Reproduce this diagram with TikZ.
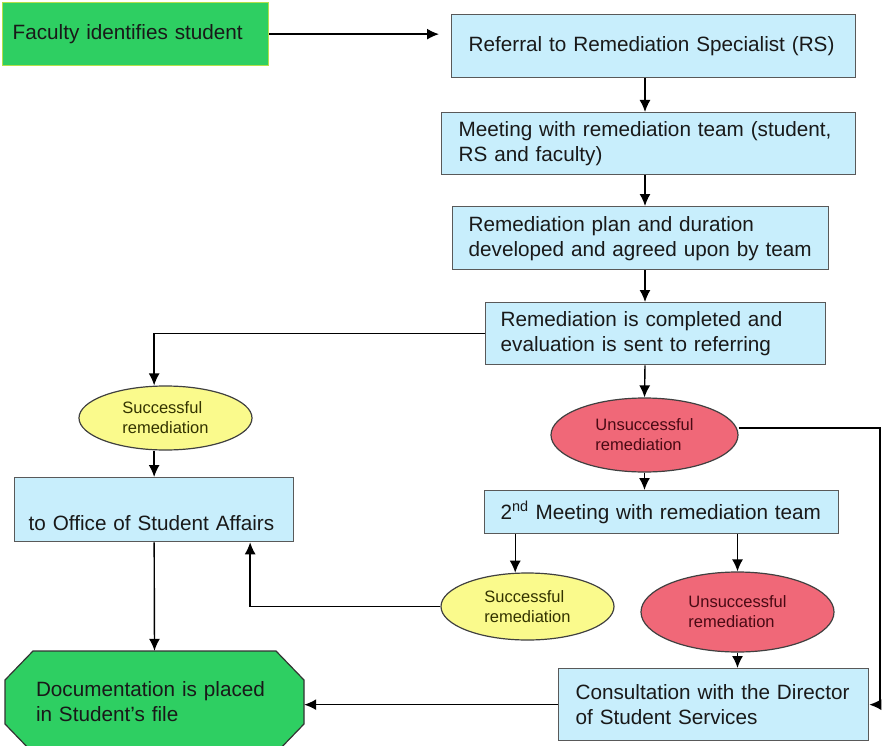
\documentclass[tikz,border=0pt]{standalone}
\usepackage{fontspec}
\setmainfont{Liberation Sans}
\usetikzlibrary{shapes.geometric,arrows.meta}
\definecolor{facgreen}{HTML}{2ECF62}
\definecolor{facline}{HTML}{B4E04A}
\definecolor{boxblue}{HTML}{C8EEFC}
\definecolor{okyellow}{HTML}{FAFA8C}
\definecolor{badred}{HTML}{F06878}
\definecolor{oktext}{HTML}{333300}
\definecolor{badtext}{HTML}{4A0A14}
\newcommand{\boxfont}{\fontsize{20.7}{25}\selectfont}
\newcommand{\ovalfont}{\fontsize{16.5}{20}\selectfont}
\tikzset{
  stepbox/.style={draw=black!65, line width=1.3pt, fill=boxblue, anchor=north west, align=left, font=\boxfont, text=black!90},
  okoval/.style={ellipse, draw=black!75, line width=1.2pt, fill=okyellow, align=left, font=\ovalfont, text=oktext, inner sep=0pt},
  badoval/.style={okoval, fill=badred, text=badtext},
  flow/.style={line width=1.4pt, -{Latex[length=12pt,width=11pt]}},
}
\begin{document}
\begin{tikzpicture}[x=1pt,y=-1pt]
\useasboundingbox (0,0) rectangle (888,746);
\fill[white] (0,0) rectangle (888,746);
\clip (0,0) rectangle (888,746);
\node[stepbox, fill=facgreen, draw=facline, inner xsep=10pt, text width=246pt, minimum height=63pt] (fac) at (2,2) {Faculty identifies student};
\node[stepbox, inner xsep=17pt, text width=370pt, minimum height=63pt] (ref) at (451,14) {Referral to Remediation Specialist (RS)};
\node[stepbox, inner xsep=17pt, text width=380pt, minimum height=62pt] (meet) at (441,112) {Meeting with remediation team (student,\\RS and faculty)};
\node[stepbox, inner xsep=16pt, text width=344pt, minimum height=63pt] (plan) at (452,206) {Remediation plan and duration\\developed and agreed upon by team};
\node[stepbox, inner xsep=15pt, text width=310pt, minimum height=62pt] (comp) at (485,302) {Remediation is completed and\\evaluation is sent to referring};
\node[okoval, minimum width=173pt, minimum height=64pt] (suc1) at (165.5,418) {Successful\\remediation};
\node[badoval, minimum width=187pt, minimum height=74pt] (uns1) at (644.5,435) {Unsuccessful\\remediation};
\node[stepbox, inner xsep=14pt, text width=251pt, minimum height=64pt] (office) at (14,477) {\mbox{}\\[16pt]to Office of Student Affairs};
\node[stepbox, inner xsep=16pt, text width=322pt, minimum height=43pt] (meet2) at (484,490) {2\textsuperscript{nd} Meeting with remediation team};
\node[okoval, minimum width=173pt, minimum height=67pt] (suc2) at (527.5,606.5) {Successful\\remediation};
\node[badoval, minimum width=193pt, minimum height=80pt] (uns2) at (737.5,612) {Unsuccessful\\remediation};
\node[stepbox, inner xsep=17pt, text width=276pt, minimum height=72pt] (consult) at (558,668) {Consultation with the Director\\of Student Services};
\draw[line width=1.2pt, draw=black!80, fill=facgreen] (5,680) -- (33,651) -- (276,651) -- (304,680) -- (304,724) -- (276,753) -- (33,753) -- (5,724) -- cycle;
\node[align=left, font=\boxfont, text=black!90, minimum width=299pt, minimum height=102pt, inner xsep=31pt, text width=237pt] (doc) at (154.5,702) {Documentation is placed\\in Student’s file};
\coordinate (axis) at (645,0);
\coordinate (rcol) at (880,0);
\draw[flow, shorten >=12pt] (fac) -- (fac -| ref.west);
\draw[flow] (ref.south -| axis) -- (meet.north -| axis);
\draw[flow] (meet.south -| axis) -- (plan.north -| axis);
\draw[flow] (plan.south -| axis) -- (comp.north -| axis);
\draw[flow] (comp.south -| axis) -- (uns1.north);
\draw[flow] (comp.west) -| (suc1.north -| office.north);
\draw[flow] (suc1.south -| office.north) -- (office.north);
\draw[flow] (office.south) -- (doc.north);
\draw[flow] (uns1.south) -- (meet2.north -| uns1.south);
\draw[flow] ([yshift=7pt]uns1.east) -- ([yshift=7pt]uns1.east -| rcol) |- (consult.east);
\draw[flow] (meet2.south -| suc2.110) -- (suc2.110);
\draw[flow] (meet2.south -| uns2.north) -- (uns2.north);
\draw[flow] (uns2.south) -- (consult.north -| uns2.south);
\draw[flow] (suc2.west) -| ([xshift=96pt]office.south);
\draw[flow] (consult.west) -- (consult.west -| doc.east);
\end{tikzpicture}
\end{document}
